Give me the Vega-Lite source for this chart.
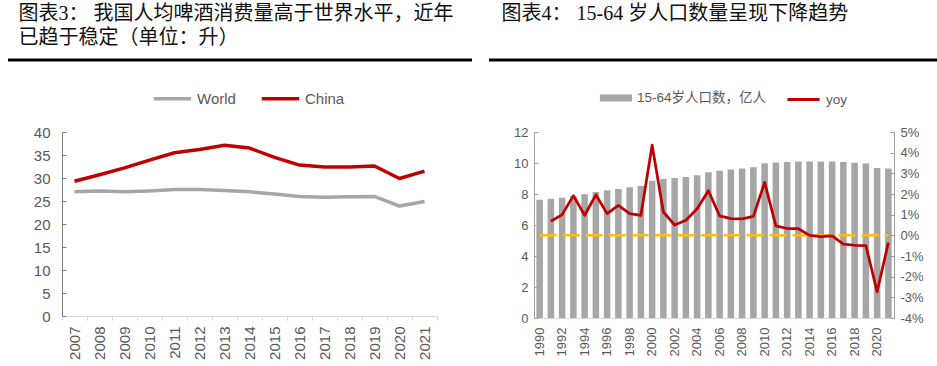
{
  "$schema": "https://vega.github.io/schema/vega-lite/v6.json",
  "padding": {"left": 6, "top": 3, "right": 0, "bottom": 0},
  "background": "white",
  "spacing": 16,
  "resolve": {"scale": {"color": "independent", "stroke": "independent"}},
  "vconcat": [
    {
      "spacing": 13,
      "hconcat": [
        {
          "width": 464,
          "height": 1,
          "title": {"text": ["图表3：  我国人均啤酒消费量高于世界水平，近年", "已趋于稳定（单位：升）"], "anchor": "start", "dx": 12, "offset": 11},
          "data": {"values": [{"v": 0}]},
          "mark": {"type": "rule", "strokeWidth": 3, "color": "#000000"},
          "encoding": {"y": {"field": "v", "type": "quantitative", "axis": null, "scale": {"domain": [0, 1]}}}
        },
        {
          "width": 454,
          "height": 1,
          "title": {"text": ["图表4：  15-64 岁人口数量呈现下降趋势", " "], "anchor": "start", "dx": 14, "offset": 11},
          "data": {"values": [{"v": 0}]},
          "mark": {"type": "rule", "strokeWidth": 3, "color": "#000000"},
          "encoding": {"y": {"field": "v", "type": "quantitative", "axis": null, "scale": {"domain": [0, 1]}}}
        }
      ]
    },
    {
      "spacing": 13,
      "resolve": {"scale": {"color": "independent", "stroke": "independent"}},
      "hconcat": [
        {
          "width": 1,
          "height": 1,
          "data": {"values": []},
          "mark": {"type": "point"}
        },
        {
          "width": 375,
          "height": 184,
          "data": {"values": [
            {"year": 2007, "series": "World", "value": 27.0},
            {"year": 2008, "series": "World", "value": 27.2},
            {"year": 2009, "series": "World", "value": 27.0},
            {"year": 2010, "series": "World", "value": 27.2},
            {"year": 2011, "series": "World", "value": 27.5},
            {"year": 2012, "series": "World", "value": 27.5},
            {"year": 2013, "series": "World", "value": 27.3},
            {"year": 2014, "series": "World", "value": 27.0},
            {"year": 2015, "series": "World", "value": 26.5},
            {"year": 2016, "series": "World", "value": 26.0},
            {"year": 2017, "series": "World", "value": 25.8},
            {"year": 2018, "series": "World", "value": 25.9},
            {"year": 2019, "series": "World", "value": 26.0},
            {"year": 2020, "series": "World", "value": 23.9},
            {"year": 2021, "series": "World", "value": 24.9},
            {"year": 2007, "series": "China", "value": 29.3},
            {"year": 2008, "series": "China", "value": 30.7},
            {"year": 2009, "series": "China", "value": 32.2},
            {"year": 2010, "series": "China", "value": 33.9},
            {"year": 2011, "series": "China", "value": 35.5},
            {"year": 2012, "series": "China", "value": 36.2},
            {"year": 2013, "series": "China", "value": 37.1},
            {"year": 2014, "series": "China", "value": 36.5},
            {"year": 2015, "series": "China", "value": 34.5},
            {"year": 2016, "series": "China", "value": 32.8},
            {"year": 2017, "series": "China", "value": 32.4},
            {"year": 2018, "series": "China", "value": 32.4},
            {"year": 2019, "series": "China", "value": 32.6},
            {"year": 2020, "series": "China", "value": 29.9},
            {"year": 2021, "series": "China", "value": 31.5}
          ]},
          "mark": {"type": "line", "strokeWidth": 3.5, "strokeJoin": "round"},
          "encoding": {
            "x": {
              "field": "year", "type": "ordinal", "bandPosition": 0.5,
              "scale": {"type": "band", "paddingInner": 0, "paddingOuter": 0},
              "axis": {"title": null, "labelAngle": 270, "labelFontSize": 15, "tickBand": "extent", "tickSize": 4, "labelPadding": 6, "domainColor": "#D9D9D9", "tickColor": "#D9D9D9"}
            },
            "y": {
              "field": "value", "type": "quantitative",
              "scale": {"domain": [0, 40]},
              "axis": {"title": null, "values": [0, 5, 10, 15, 20, 25, 30, 35, 40], "grid": false, "labelOverlap": false, "tickSize": -4, "labelPadding": 16, "minExtent": 40, "maxExtent": 40, "domainColor": "#7F7F7F", "tickColor": "#7F7F7F", "labelFontSize": 15}
            },
            "color": {
              "field": "series", "type": "nominal",
              "scale": {"domain": ["World", "China"], "range": ["#A6A6A6", "#C00000"]},
              "legend": {"title": null, "orient": "none", "direction": "horizontal", "legendX": 90, "legendY": -54, "symbolType": "stroke", "symbolSize": 1400, "symbolStrokeWidth": 3.5, "labelFontSize": 15, "labelOffset": 4, "columnPadding": 18}
            }
          }
        },
        {
          "width": 360,
          "height": 186,
          "data": {"values": [
            {"year": 1990, "pop": 7.63, "yoy": null},
            {"year": 1991, "pop": 7.70, "yoy": 0.68},
            {"year": 1992, "pop": 7.76, "yoy": 1.0},
            {"year": 1993, "pop": 7.86, "yoy": 1.92},
            {"year": 1994, "pop": 7.99, "yoy": 0.97},
            {"year": 1995, "pop": 8.13, "yoy": 1.96},
            {"year": 1996, "pop": 8.24, "yoy": 1.05},
            {"year": 1997, "pop": 8.33, "yoy": 1.45},
            {"year": 1998, "pop": 8.43, "yoy": 1.05},
            {"year": 1999, "pop": 8.51, "yoy": 0.97},
            {"year": 2000, "pop": 8.86, "yoy": 4.36},
            {"year": 2001, "pop": 8.97, "yoy": 1.13},
            {"year": 2002, "pop": 9.03, "yoy": 0.5},
            {"year": 2003, "pop": 9.09, "yoy": 0.73},
            {"year": 2004, "pop": 9.21, "yoy": 1.29},
            {"year": 2005, "pop": 9.40, "yoy": 2.16},
            {"year": 2006, "pop": 9.50, "yoy": 0.94},
            {"year": 2007, "pop": 9.58, "yoy": 0.81},
            {"year": 2008, "pop": 9.64, "yoy": 0.8},
            {"year": 2009, "pop": 9.72, "yoy": 0.92},
            {"year": 2010, "pop": 9.99, "yoy": 2.56},
            {"year": 2011, "pop": 10.03, "yoy": 0.46},
            {"year": 2012, "pop": 10.07, "yoy": 0.33},
            {"year": 2013, "pop": 10.10, "yoy": 0.32},
            {"year": 2014, "pop": 10.10, "yoy": 0.0},
            {"year": 2015, "pop": 10.10, "yoy": -0.06},
            {"year": 2016, "pop": 10.10, "yoy": -0.03},
            {"year": 2017, "pop": 10.06, "yoy": -0.42},
            {"year": 2018, "pop": 10.01, "yoy": -0.48},
            {"year": 2019, "pop": 9.96, "yoy": -0.5},
            {"year": 2020, "pop": 9.68, "yoy": -2.73},
            {"year": 2021, "pop": 9.65, "yoy": -0.35}
          ]},
          "layer": [
            {
              "mark": {"type": "bar"},
              "encoding": {
                "x": {
                  "field": "year", "type": "ordinal",
                  "scale": {"type": "band", "paddingInner": 0.42, "paddingOuter": 0.21},
                  "axis": {"title": null, "labelAngle": 270, "labelFontSize": 13, "values": [1990, 1992, 1994, 1996, 1998, 2000, 2002, 2004, 2006, 2008, 2010, 2012, 2014, 2016, 2018, 2020], "ticks": false, "labelPadding": 9, "domainColor": "#D9D9D9"}
                },
                "y": {
                  "field": "pop", "type": "quantitative",
                  "scale": {"domain": [0, 12]},
                  "axis": {"title": null, "orient": "left", "values": [0, 2, 4, 6, 8, 10, 12], "grid": false, "labelOverlap": false, "tickSize": -4, "labelPadding": 10, "minExtent": 83, "maxExtent": 83, "domainColor": "#A0A0A0", "tickColor": "#A0A0A0", "labelFontSize": 13}
                },
                "color": {
                  "datum": "15-64岁人口数，亿人",
                  "scale": {"range": ["#A6A6A6"]},
                  "legend": {"title": null, "orient": "none", "legendX": 63, "legendY": -53, "symbolType": "M-0.86,-0.19H0.86V0.19H-0.86Z", "symbolSize": 1400, "symbolStrokeWidth": 0, "labelFontSize": 13.5, "labelOffset": 2}
                }
              }
            },
            {
              "mark": {"type": "line", "color": "#FFC000", "strokeDash": [17, 6], "strokeWidth": 2.5},
              "encoding": {
                "x": {"field": "year", "type": "ordinal", "bandPosition": 0.5},
                "y": {"datum": 0, "type": "quantitative", "scale": {"domain": [-4, 5]}, "axis": null}
              }
            },
            {
              "mark": {"type": "line", "strokeWidth": 2.75, "strokeJoin": "round"},
              "encoding": {
                "x": {"field": "year", "type": "ordinal", "bandPosition": 0.5},
                "y": {
                  "field": "yoy", "type": "quantitative",
                  "scale": {"domain": [-4, 5]},
                  "axis": {"title": null, "orient": "right", "values": [-4, -3, -2, -1, 0, 1, 2, 3, 4, 5], "labelExpr": "datum.value + '%'", "labelOverlap": false, "grid": false, "tickSize": -4, "labelPadding": 10, "domainColor": "#A0A0A0", "tickColor": "#A0A0A0", "labelFontSize": 13}
                },
                "stroke": {
                  "datum": "yoy",
                  "scale": {"range": ["#C00000"]},
                  "legend": {"title": null, "orient": "none", "legendX": 249, "legendY": -53, "symbolType": "M-0.86,0H0.86", "symbolSize": 1400, "symbolStrokeWidth": 3, "labelFontSize": 13.5, "labelOffset": 2}
                }
              }
            }
          ],
          "resolve": {"scale": {"y": "independent"}}
        }
      ]
    }
  ],
  "config": {
    "view": {"stroke": null},
    "font": "Liberation Sans, Noto Sans CJK SC",
    "axis": {"labelColor": "#595959", "labelFont": "Liberation Sans, Noto Sans CJK SC"},
    "legend": {"labelColor": "#595959", "labelFont": "Liberation Sans, Noto Sans CJK SC", "padding": 0},
    "title": {"font": "Liberation Serif, Noto Sans CJK SC", "fontSize": 20, "fontWeight": "normal", "color": "#111111", "lineHeight": 24}
  }
}
